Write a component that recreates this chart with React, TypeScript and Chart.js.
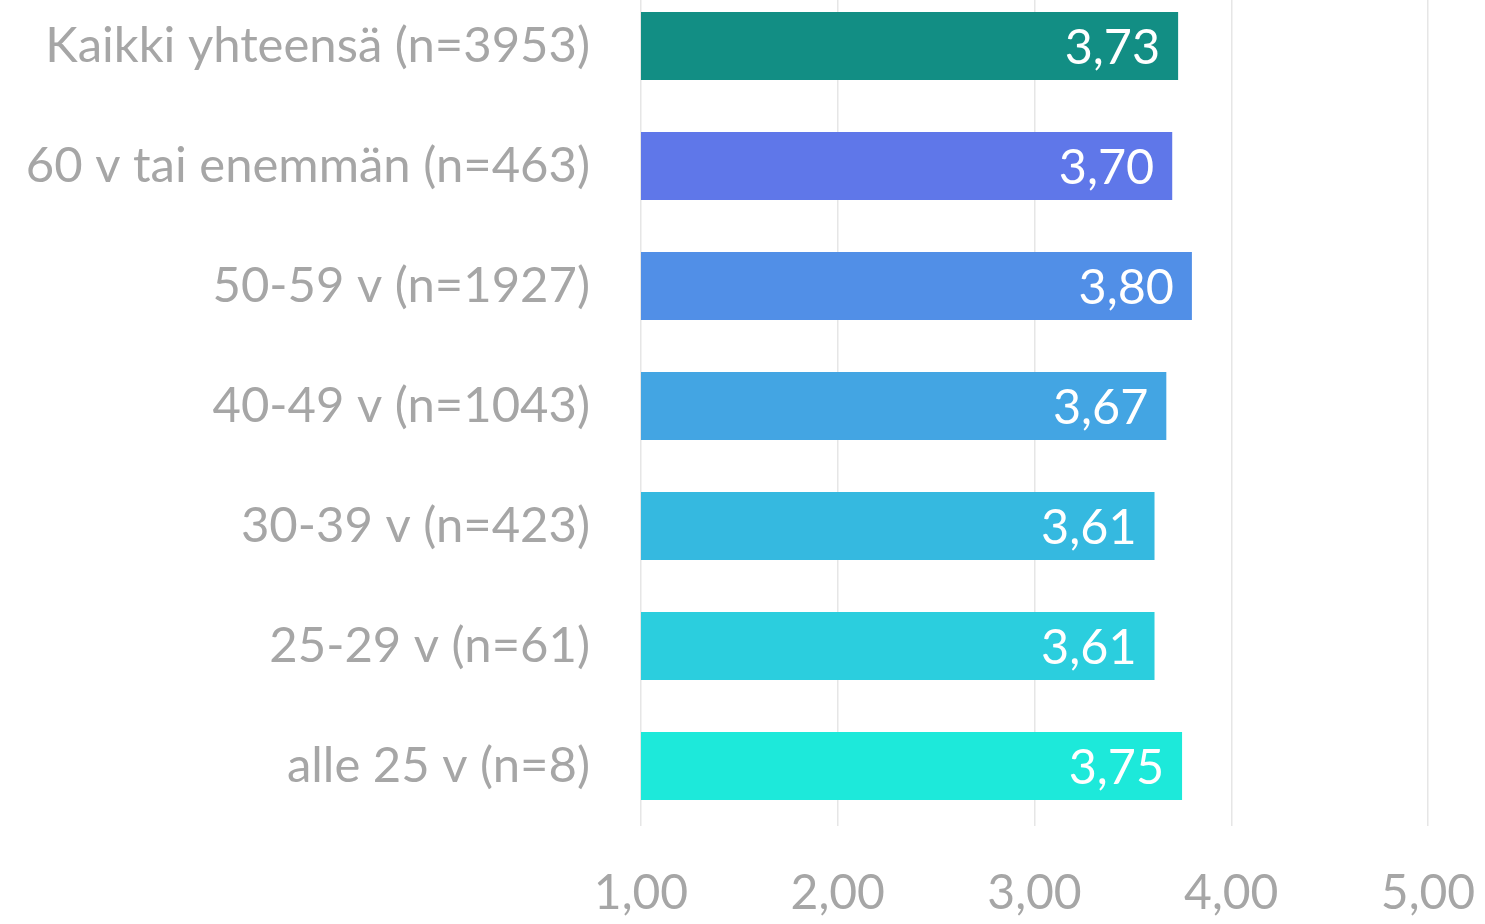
import React, { useEffect, useRef } from "react";
import { Chart, registerables } from "chart.js";

Chart.register(...registerables);

const categories = [
  "Kaikki yhteensä (n=3953)",
  "60 v tai enemmän (n=463)",
  "50-59 v (n=1927)",
  "40-49 v (n=1043)",
  "30-39 v (n=423)",
  "25-29 v (n=61)",
  "alle 25 v (n=8)",
];
const values = [3.73, 3.7, 3.8, 3.67, 3.61, 3.61, 3.75];
const barColors = [
  "#128E84",
  "#5F77E9",
  "#518FE7",
  "#43A5E3",
  "#35B9E0",
  "#2BCEDE",
  "#1DE9DA",
];
const axisMin = 1;
const axisMax = 5;

const fmt = (v: number) => v.toFixed(2).replace(".", ",");
const FONT = "Lato";

const valueLabels = {
  id: "valueLabels",
  afterDatasetsDraw(chart: any) {
    const ctx = chart.ctx;
    const meta = chart.getDatasetMeta(0);
    ctx.save();
    ctx.font = `48.5px ${FONT}`;
    ctx.fillStyle = "#FFFFFF";
    ctx.textAlign = "right";
    ctx.textBaseline = "middle";
    meta.data.forEach((bar: any, i: number) => {
      ctx.fillText(fmt(values[i]), bar.x - 18, bar.y + 2);
    });
    ctx.restore();
  },
};

export default function App() {
  const ref = useRef<HTMLCanvasElement | null>(null);
  useEffect(() => {
    if (!ref.current) return;
    const chart = new Chart(ref.current, {
      type: "bar",
      data: {
        labels: categories,
        datasets: [
          {
            data: values,
            backgroundColor: barColors,
            borderWidth: 0,
            categoryPercentage: 1,
            barPercentage: 0.567,
          },
        ],
      },
      options: {
        indexAxis: "y",
        animation: false,
        responsive: true,
        maintainAspectRatio: false,
        layout: { padding: { left: 0, right: 57, top: 0, bottom: 0 } },
        plugins: { legend: { display: false }, tooltip: { enabled: false } },
        scales: {
          x: {
            min: axisMin,
            max: axisMax,
            ticks: {
              stepSize: 1,
              callback: (v: any) => fmt(Number(v)),
              color: "#A6A6A6",
              font: { family: FONT, size: 48 },
              padding: 39,
            },
            grid: { color: "#E6E6E6", lineWidth: 1.5, drawTicks: false },
            border: { display: false },
            afterFit: (s: any) => {
              s.height = 98;
              s.paddingLeft = 0;
              s.paddingRight = 0;
              s.paddingTop = 0;
              s.paddingBottom = 0;
            },
          },
          y: {
            ticks: {
              color: "#A6A6A6",
              font: { family: FONT, size: 49 },
              padding: 51,
            },
            grid: { display: false, drawTicks: false },
            border: { display: false },
            afterFit: (s: any) => {
              s.width = 641;
              s.paddingLeft = 0;
              s.paddingRight = 0;
              s.paddingTop = 0;
              s.paddingBottom = 0;
            },
          },
        },
      },
      plugins: [valueLabels],
    });
    return () => chart.destroy();
  }, []);
  return (
    <div style={{ position: "fixed", left: 0, top: -14, width: 1485, height: 938 }}>
      <canvas ref={ref} />
    </div>
  );
}
